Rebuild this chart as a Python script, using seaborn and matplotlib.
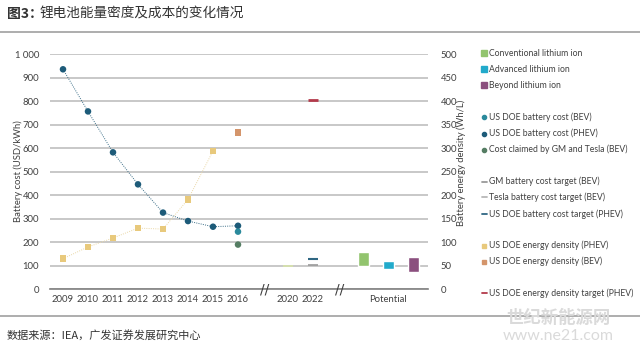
import numpy as np
import pandas as pd
import matplotlib
matplotlib.use("Agg")
import matplotlib.pyplot as plt
import seaborn as sns

# ---------------- data ----------------
slots = ["2009", "2010", "2011", "2012", "2013", "2014", "2015", "2016",
         "brk1", "2020", "2022", "brk2", "pot1", "Potential", "pot3"]
tick_labels = ["2009", "2010", "2011", "2012", "2013", "2014", "2015", "2016",
               "2020", "2022", "Potential"]
tick_slots = ["2009", "2010", "2011", "2012", "2013", "2014", "2015", "2016",
              "2020", "2022", "Potential"]

cost_phev_years = ["2009", "2010", "2011", "2012", "2013", "2014", "2015", "2016"]
cost_phev = [935, 756, 582, 446, 326, 290, 266, 270]
cost_bev_years = ["2016"]
cost_bev = [245]
claimed_years = ["2016"]
claimed = [190]

density_phev_years = ["2009", "2010", "2011", "2012", "2013", "2014", "2015"]
density_phev = [65, 90, 109, 130, 128, 191, 294]
density_bev_years = ["2016"]
density_bev = [333]

tesla_target_years = ["2020"]
tesla_target = [100]
gm_target_years = ["2022"]
gm_target = [104]
doe_cost_target_years = ["2022"]
doe_cost_target = [127]
doe_density_target_years = ["2022"]
doe_density_target = [402]

potential_slots = ["pot1", "Potential", "pot3"]
potential_names = ["Conventional lithium ion", "Advanced lithium ion", "Beyond lithium ion"]
potential_low = [100, 86, 74]
potential_high = [160, 122, 136]

left_ticks = [0, 100, 200, 300, 400, 500, 600, 700, 800, 900, 1000]
right_ticks = [0, 50, 100, 150, 200, 250, 300, 350, 400, 450, 500]

# ---------------- colors ----------------
c_conv = "#92c46e"
c_adv = "#22aacb"
c_beyond = "#8b4f7e"
c_bev = "#2b8a9c"
c_phev = "#1d5b79"
c_claim = "#557d63"
c_gm = "#9a9a9a"
c_tesla = "#d5dfae"
c_doe_t = "#2f6783"
c_dens_phev = "#e8c97c"
c_dens_bev = "#d4956b"
c_dens_t = "#b33a4b"

sns.set_theme(style="white")
plt.rcParams['font.family'] = ['Lato', 'Noto Sans CJK SC', 'DejaVu Sans']

W, H = 640, 344
fig = plt.figure(figsize=(W / 100, H / 100), dpi=100)

def fx(px):
    return px / W

def fy(py):
    return 1 - py / H

ax = fig.add_axes([fx(50), fy(289.3), fx(428 - 50), (289.3 - 54) / H])
ax2 = ax.twinx()

pos = {s: i for i, s in enumerate(slots)}

def xs(lst):
    return [pos[s] for s in lst]

# cost line (PHEV)
df_cost = pd.DataFrame({"x": xs(cost_phev_years), "y": cost_phev})
sns.lineplot(data=df_cost, x="x", y="y", ax=ax, color="#3d6f88", lw=0.7,
             linestyle=(0, (1, 1.3)), zorder=3)
sns.scatterplot(data=df_cost, x="x", y="y", ax=ax, color=c_phev, s=22,
                edgecolor="none", zorder=4)
sns.scatterplot(x=xs(cost_bev_years), y=cost_bev, ax=ax, color=c_bev, s=22,
                edgecolor="none", zorder=4)
sns.scatterplot(x=xs(claimed_years), y=claimed, ax=ax, color=c_claim, s=22,
                edgecolor="none", zorder=4)

# cost targets
sns.scatterplot(x=xs(tesla_target_years), y=tesla_target, ax=ax, color=c_tesla,
                marker="_", s=45, linewidth=1.4, zorder=4)
sns.scatterplot(x=xs(gm_target_years), y=gm_target, ax=ax, color=c_gm,
                marker="_", s=45, linewidth=1.2, zorder=4)
sns.scatterplot(x=xs(doe_cost_target_years), y=doe_cost_target, ax=ax, color=c_doe_t,
                marker="_", s=45, linewidth=1.5, zorder=4)

# potential bars
pot_colors = [c_conv, c_adv, c_beyond]
heights = [h - l for h, l in zip(potential_high, potential_low)]
ax.bar(xs(potential_slots), heights, bottom=potential_low, width=0.44,
       color=pot_colors, zorder=3)

# energy density (right axis)
df_den = pd.DataFrame({"x": xs(density_phev_years), "y": density_phev})
sns.lineplot(data=df_den, x="x", y="y", ax=ax2, color="#ead8a8", lw=0.7,
             linestyle=(0, (1, 1.3)), zorder=3)
sns.scatterplot(data=df_den, x="x", y="y", ax=ax2, color=c_dens_phev, s=22,
                marker="s", edgecolor="none", zorder=4)
sns.scatterplot(x=xs(density_bev_years), y=density_bev, ax=ax2, color=c_dens_bev,
                s=22, marker="s", edgecolor="none", zorder=4)
sns.scatterplot(x=xs(doe_density_target_years), y=doe_density_target, ax=ax2,
                color=c_dens_t, marker="_", s=45, linewidth=2.0, zorder=4)

# axes styling
xlim = (-0.52, 14.6)
ax.set_xlim(*xlim)
ax2.set_xlim(*xlim)
ax.set_ylim(0, 1000)
ax2.set_ylim(0, 500)
ax.set_yticks(left_ticks)
ax.set_yticklabels(["1 000" if v == 1000 else str(v) for v in left_ticks])
ax2.set_yticks(right_ticks)
ax2.set_yticklabels([str(v) for v in right_ticks])
ax.set_xticks(xs(tick_slots))
ax.set_xticklabels(tick_labels)
ax.set_xlabel("")
ax.set_ylabel("")
ax2.set_ylabel("")
ax.grid(axis="y", color="#c4c4c4", lw=1.3)
ax.grid(axis="x", visible=False)
ax2.grid(False)
ax.set_axisbelow(True)
for a in (ax, ax2):
    for sp in ["top", "left", "right", "bottom"]:
        a.spines[sp].set_visible(False)
ax.spines["bottom"].set_visible(True)
ax.spines["bottom"].set_color("#808080")
ax.spines["bottom"].set_linewidth(1.2)
ax.tick_params(axis="y", length=0, pad=8, labelsize=6.8, labelcolor="#404040")
ax.tick_params(axis="x", length=0, pad=4, labelsize=6.8, labelcolor="#404040")
ax2.tick_params(axis="y", length=0, pad=9, labelsize=6.8, labelcolor="#404040")
if ax.get_legend():
    ax.get_legend().remove()
if ax2.get_legend():
    ax2.get_legend().remove()

# axis breaks
for b in ["brk1", "brk2"]:
    ax.text(pos[b] + 0.05, 0, "//", ha="center", va="center", fontsize=10,
            color="#404040", clip_on=False, family="DejaVu Sans", zorder=6)

# axis titles
fig.text(fx(18), fy(171), "Battery cost (USD/kWh)", rotation=90, ha="center",
         va="center", fontsize=6.8, color="#404040")
fig.text(fx(461), fy(163), "Battery energy density (Wh/L)", rotation=90, ha="center",
         va="center", fontsize=6.8, color="#404040")

# legend (manual)
legend_rows = [
    (53.3, "sq", c_conv, potential_names[0]),
    (69.3, "sq", c_adv, potential_names[1]),
    (85.0, "sq", c_beyond, potential_names[2]),
    (117.3, "dot", c_bev, "US DOE battery cost (BEV)"),
    (133.7, "dot", c_phev, "US DOE battery cost (PHEV)"),
    (149.7, "dot", c_claim, "Cost claimed by GM and Tesla (BEV)"),
    (181.7, "dash", c_gm, "GM battery cost target (BEV)"),
    (197.3, "dash", "#b8b8b8", "Tesla battery cost target (BEV)"),
    (213.8, "dash", c_doe_t, "US DOE battery cost target (PHEV)"),
    (245.7, "ssq", c_dens_phev, "US DOE energy density (PHEV)"),
    (261.7, "ssq", c_dens_bev, "US DOE energy density (BEV)"),
    (293.3, "dash", c_dens_t, "US DOE energy density target (PHEV)"),
]
for yy, kind, col, lab in legend_rows:
    if kind == "sq":
        fig.add_artist(plt.Line2D([fx(484)], [fy(yy)], marker="s", markersize=4.0,
                                  color=col, linestyle="none"))
    elif kind == "ssq":
        fig.add_artist(plt.Line2D([fx(484)], [fy(yy)], marker="s", markersize=3.0,
                                  color=col, linestyle="none"))
    elif kind == "dot":
        fig.add_artist(plt.Line2D([fx(484)], [fy(yy)], marker="o", markersize=3.0,
                                  color=col, linestyle="none"))
    else:
        fig.add_artist(plt.Line2D([fx(481.5), fx(486.5)], [fy(yy), fy(yy)],
                                  color=col, lw=1.3))
    fig.text(fx(489), fy(yy), lab, ha="left", va="center", fontsize=6.2,
             color="#404040")

# title, separators, source
cjk = ['Noto Sans CJK SC', 'DejaVu Sans']
fig.text(fx(7), fy(14), "图3：", ha="left", va="center", fontsize=10,
         family=cjk, weight="bold", color="#333333")
fig.text(fx(40), fy(14), "锂电池能量密度及成本的变化情况", ha="left", va="center",
         fontsize=9.8, family=cjk, color="#333333")
fig.add_artist(plt.Line2D([0, 1], [fy(31.7), fy(31.7)], color="#a0a0a0", lw=1.2))
fig.add_artist(plt.Line2D([0, 1], [fy(315.7), fy(315.7)], color="#a0a0a0", lw=1.2))
fig.text(fx(7), fy(335), "数据来源：IEA，广发证券发展研究中心", ha="left", va="center",
         fontsize=8, family=cjk, color="#333333")

# watermark
fig.text(fx(558), fy(318), "世纪新能源网", ha="center", va="center", fontsize=12.5,
         family=cjk, color="#dadada", weight="bold")
fig.text(fx(558), fy(336), "www.ne21.com", ha="center", va="center", fontsize=11.5,
         color="#dadada")

fig.savefig("out.png", dpi=100, facecolor="white")
